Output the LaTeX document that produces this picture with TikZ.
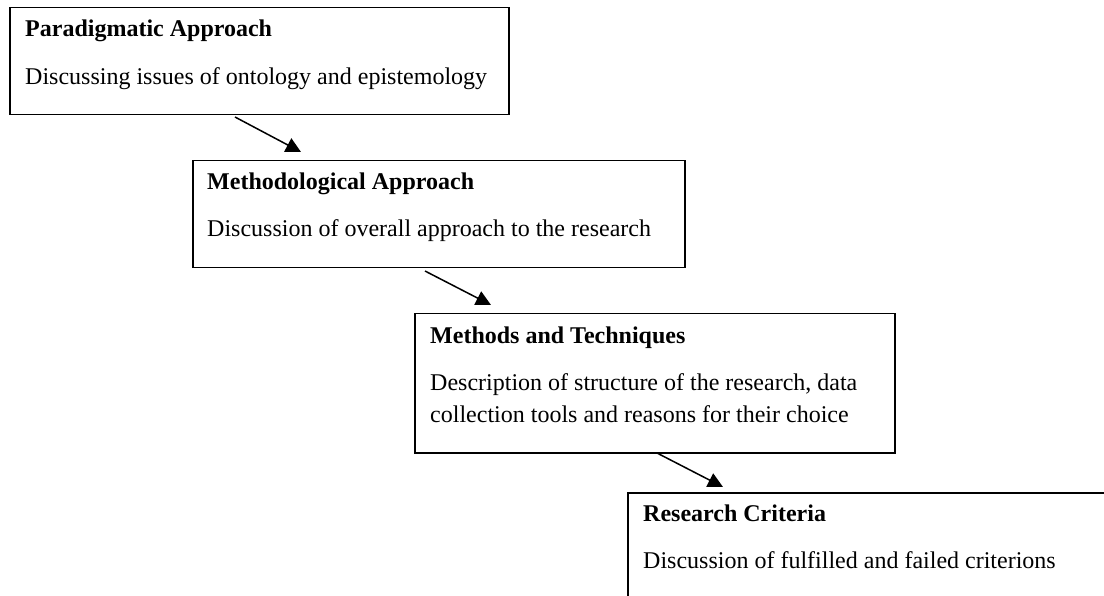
\documentclass[tikz,border=0pt]{standalone}
\usepackage{fontspec}
\setmainfont{Liberation Serif}
\usetikzlibrary{arrows.meta}
\begin{document}
\begin{tikzpicture}[x=1pt,y=-1pt,
  box/.style={draw=black, line width=1.5pt, rectangle, anchor=north west, inner sep=0pt},
  hd/.style={anchor=base west, inner sep=0pt, font=\fontsize{24}{32}\selectfont\bfseries},
  bd/.style={anchor=base west, inner sep=0pt, font=\fontsize{24}{32}\selectfont},
  arr/.style={line width=1.5pt, -{Triangle[length=15pt,width=15pt]}}]
\useasboundingbox (0,0) rectangle (1104,596);
\fill[white] (0,0) rectangle (1104,596);
\clip (0,0) rectangle (1104,596);
% boxes
\node[box, minimum width=499pt, minimum height=107pt] (b1) at (9,7) {};
\node[box, minimum width=492pt, minimum height=107pt] (b2) at (192,160) {};
\node[box, minimum width=480pt, minimum height=139pt] (b3) at (414,313) {};
\node[box, minimum width=600pt, minimum height=200pt] (b4) at (627,492) {};
% texts
\node[hd] (t1) at (25,37) {Paradigmatic Approach};
\node[bd] (d1) at (25,85) {Discussing issues of ontology and epistemology};
\node[hd] (t2) at (207,190) {Methodological Approach};
\node[bd] (d2) at (207,237) {Discussion of overall approach to the research};
\node[hd] (t3) at (430,343) {Methods and Techniques};
\node[bd] (d3a) at (430,390) {Description of structure of the research, data};
\node[bd] (d3b) at (430,422) {collection tools and reasons for their choice};
\node[hd] (t4) at (643,521) {Research Criteria};
\node[bd] (d4) at (643,568) {Discussion of fulfilled and failed criterions};
% arrow ends
\coordinate (s1) at (235,117);
\coordinate (e1) at (301,152);
\coordinate (s2) at (425,271);
\coordinate (e2) at (491,305);
\coordinate (s3) at (657,453);
\coordinate (e3) at (723,487);
\draw[arr] (s1) -- (e1);
\draw[arr] (s2) -- (e2);
\draw[arr] (s3) -- (e3);
\end{tikzpicture}
\end{document}
